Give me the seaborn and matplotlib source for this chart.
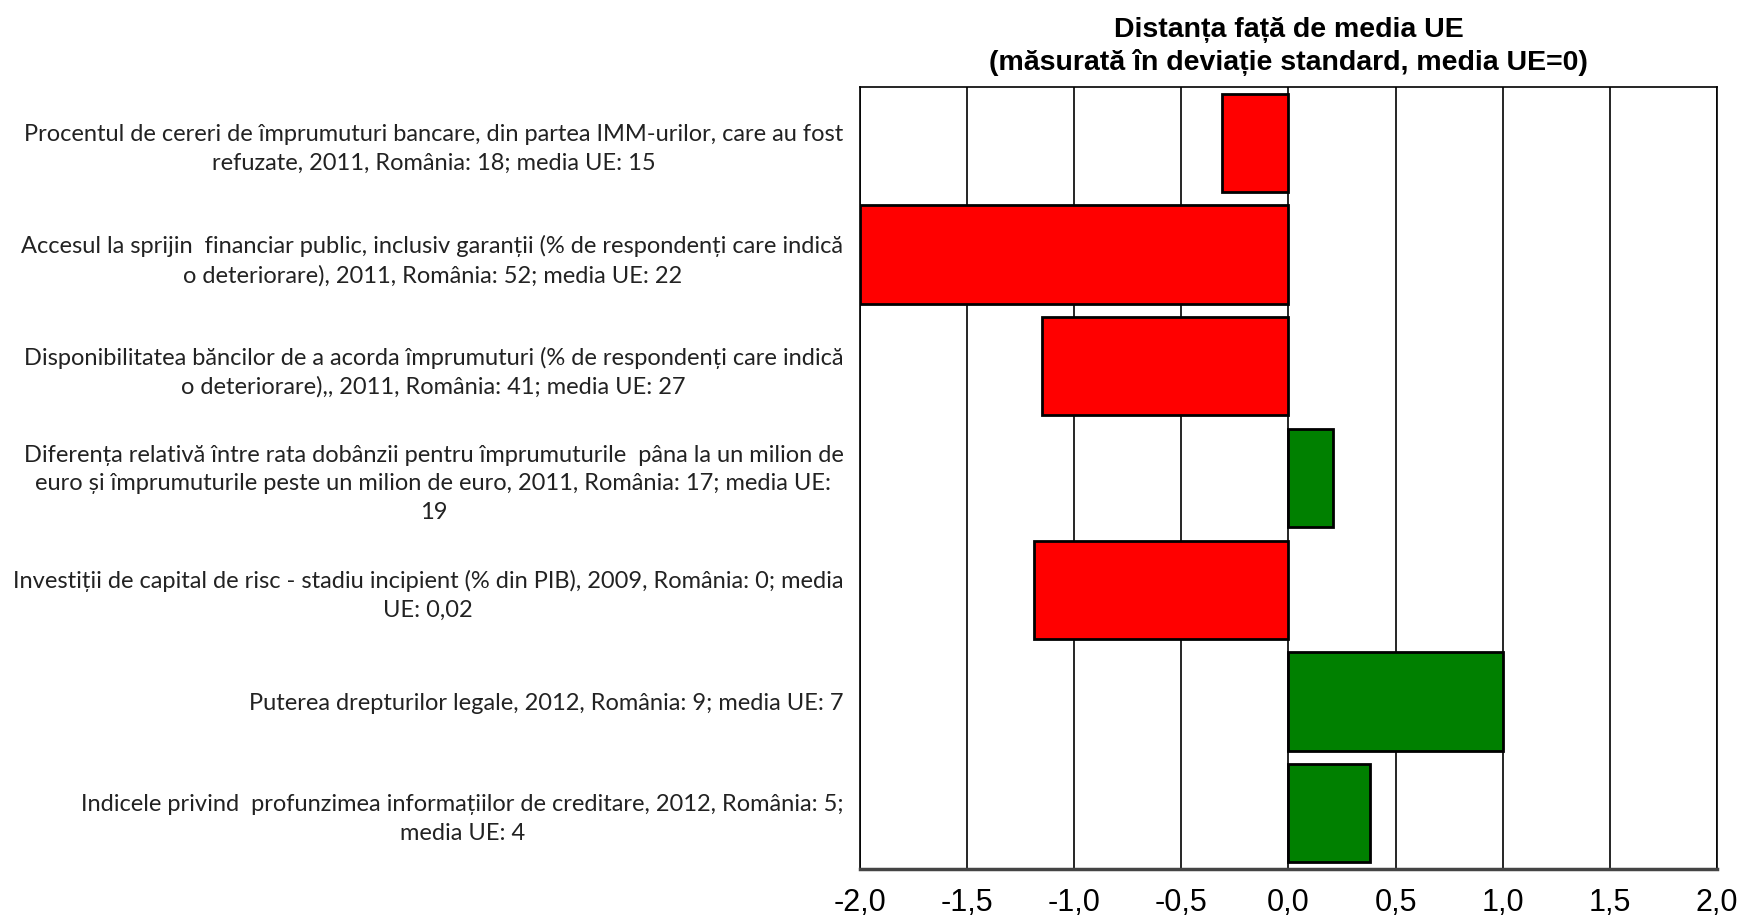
import matplotlib
matplotlib.use("Agg")
import matplotlib.pyplot as plt
from matplotlib.ticker import FuncFormatter, MultipleLocator
import seaborn as sns
import pandas as pd

# Chart data
indicatori = [
    "Procentul de cereri de împrumuturi bancare, din partea IMM-urilor, care au fost\nrefuzate, 2011, România: 18; media UE: 15",
    "Accesul la sprijin  financiar public, inclusiv garanții (% de respondenți care indică\no deteriorare), 2011, România: 52; media UE: 22",
    "Disponibilitatea băncilor de a acorda împrumuturi (% de respondenți care indică\no deteriorare),, 2011, România: 41; media UE: 27",
    "Diferența relativă între rata dobânzii pentru împrumuturile  pâna la un milion de\neuro și împrumuturile peste un milion de euro, 2011, România: 17; media UE:\n19",
    "Investiții de capital de risc - stadiu incipient (% din PIB), 2009, România: 0; media\nUE: 0,02",
    "Puterea drepturilor legale, 2012, România: 9; media UE: 7",
    "Indicele privind  profunzimea informațiilor de creditare, 2012, România: 5;\nmedia UE: 4",
]
distanta = [-0.31, -2.0, -1.15, 0.21, -1.19, 1.0, 0.38]
semn = ["neg" if v < 0 else "poz" for v in distanta]

df = pd.DataFrame({"indicator": indicatori, "distanta": distanta, "semn": semn})

sns.set_style("white")
plt.rcParams['font.family'] = ['Liberation Sans', 'DejaVu Sans']
plt.rcParams['text.color'] = 'black'
plt.rcParams['xtick.color'] = 'black'
plt.rcParams['ytick.color'] = 'black'

fig = plt.figure(figsize=(17.47, 9.19), dpi=100)
ax = fig.add_axes([0.4923, 0.0544, 0.4905, 0.8509])

sns.barplot(data=df, y="indicator", x="distanta", hue="semn",
            palette={"neg": "#ff0000", "poz": "#008000"}, saturation=1,
            dodge=False, width=0.88, edgecolor="black", linewidth=2,
            legend=False, ax=ax, orient="h")

ax.set_xlim(-2.0, 2.0)
ax.xaxis.set_major_locator(MultipleLocator(0.5))
ax.xaxis.set_major_formatter(FuncFormatter(lambda v, p: f"{v:.1f}".replace(".", ",")))
ax.grid(axis="x", color="black", linewidth=1.2)
ax.grid(axis="y", visible=False)
ax.set_axisbelow(True)
ax.set_xlabel("")
ax.set_ylabel("")

for s in ["top", "left", "right"]:
    ax.spines[s].set_color("black")
    ax.spines[s].set_linewidth(1.2)
ax.spines["bottom"].set_color("#444444")
ax.spines["bottom"].set_linewidth(2.5)

ax.tick_params(axis="x", labelsize=22, length=0, pad=14)
ax.tick_params(axis="y", length=0, pad=12)
for lbl in ax.get_yticklabels():
    lbl.set_family(["Lato", "DejaVu Sans"])
    lbl.set_fontsize(17)
    lbl.set_multialignment("center")
    lbl.set_linespacing(1.45)
    lbl.set_color("#222222")

ax.set_title("Distanța față de media UE\n(măsurată în deviație standard, media UE=0)",
             fontsize=20.5, fontweight="bold", pad=12, linespacing=1.3)

plt.savefig("out.png", dpi=100)
